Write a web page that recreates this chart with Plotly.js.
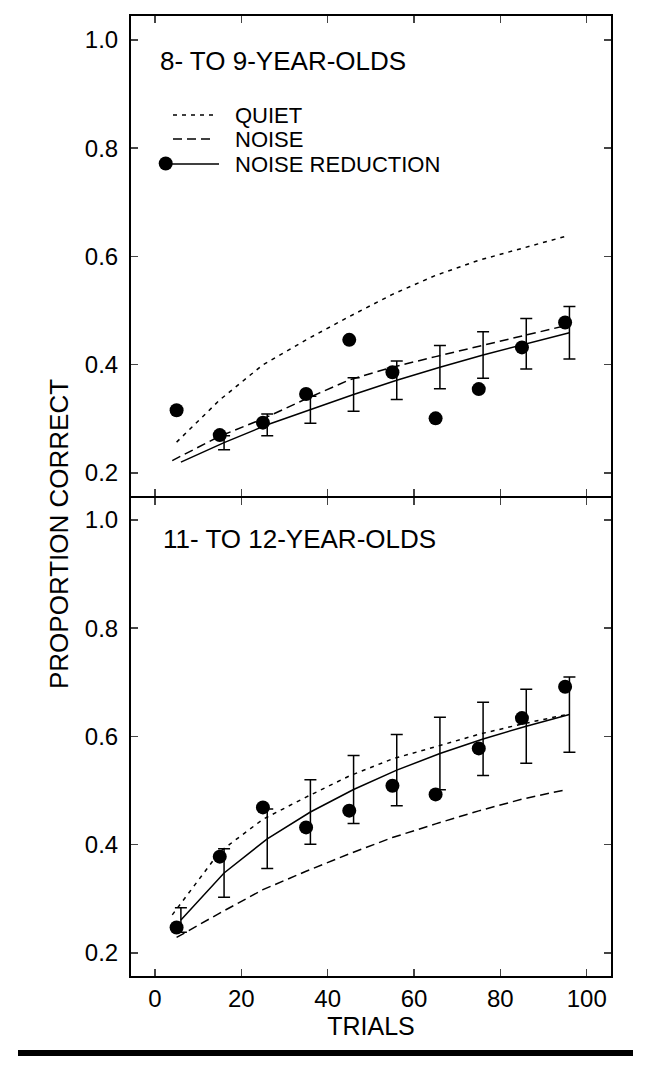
<!DOCTYPE html>
<html><head><meta charset="utf-8">
<script src="https://cdn.plot.ly/plotly-3.0.1.min.js"></script>
<style>html,body{margin:0;padding:0;background:#fff}</style>
</head><body><div id="chart" style="width:651px;height:1066px"></div>
<script>
// ---- data ----
const trials = [5, 15, 25, 35, 45, 55, 65, 75, 85, 95];
const fitTrials = [6, 16, 26, 36, 46, 56, 66, 76, 86, 96];
const curveTrialsEarly = [4, 15, 25, 35, 45, 55, 65, 75, 85, 95];

// 8- to 9-year-olds (top panel)
const quietTop = [0.257, 0.335, 0.400, 0.446, 0.489, 0.530, 0.565, 0.593, 0.615, 0.637];
const noiseTop = [0.223, 0.268, 0.300, 0.337, 0.372, 0.3955, 0.415, 0.434, 0.454, 0.472];
const nrFitTop = [0.220, 0.256, 0.289, 0.317, 0.345, 0.3715, 0.3955, 0.418, 0.4387, 0.459];
const nrErrTop = [null, 0.013, 0.020, 0.025, 0.031, 0.0355, 0.040, 0.043, 0.0467, 0.0486];
const nrDataTop = [0.316, 0.270, 0.293, 0.346, 0.446, 0.386, 0.301, 0.355, 0.432, 0.478];

// 11- to 12-year-olds (bottom panel)
const quietBot = [0.2705, 0.387, 0.447, 0.488, 0.527, 0.5586, 0.581, 0.604, 0.623, 0.640];
const noiseBot = [0.2287, 0.2737, 0.317, 0.351, 0.3832, 0.4133, 0.4386, 0.4626, 0.4842, 0.5014];
const nrFitBot = [0.261, 0.3478, 0.411, 0.4605, 0.502, 0.5378, 0.5685, 0.5955, 0.619, 0.6405];
const nrErrBot = [0.0225, 0.0446, 0.055, 0.0595, 0.0628, 0.0658, 0.0671, 0.0678, 0.0684, 0.0695];
const nrDataBot = [0.247, 0.378, 0.469, 0.432, 0.463, 0.509, 0.493, 0.578, 0.634, 0.692];

const xTicks = [0, 20, 40, 60, 80, 100];
const yTicks = [0.2, 0.4, 0.6, 0.8, 1.0];
const panelLabels = ['8- TO 9-YEAR-OLDS', '11- TO 12-YEAR-OLDS'];
const legendLabels = ['QUIET', 'NOISE', 'NOISE REDUCTION'];

// ---- styling ----
const FONT = 'Liberation Sans, Arial, sans-serif';
const DOT = '4px,5px';
const DASH = '9px,5px';

function keep(xs, errs) { return xs.filter((_, i) => errs[i] !== null); }

function panel(xa, ya, quiet, quietX, noise, noiseX, fit, err, pts) {
  return [
    {x: quietX, y: quiet, xaxis: xa, yaxis: ya, mode: 'lines', line: {color: '#000', width: 1.5, dash: DOT}, name: 'QUIET'},
    {x: noiseX, y: noise, xaxis: xa, yaxis: ya, mode: 'lines', line: {color: '#000', width: 1.5, dash: DASH}, name: 'NOISE'},
    {x: fitTrials, y: fit, xaxis: xa, yaxis: ya, mode: 'lines', line: {color: '#000', width: 1.5}, name: 'NOISE REDUCTION fit'},
    {x: keep(fitTrials, err), y: keep(fit, err), xaxis: xa, yaxis: ya, mode: 'markers',
     marker: {size: 1, color: 'rgba(0,0,0,0)'},
     error_y: {type: 'data', array: keep(err, err), visible: true, color: '#000', thickness: 1.5, width: 6}, name: 'SE'},
    {x: trials, y: pts, xaxis: xa, yaxis: ya, mode: 'markers', marker: {size: 14, color: '#000'}, name: 'NOISE REDUCTION'}
  ];
}

const data = [].concat(
  panel('x2', 'y2', quietTop, trials, noiseTop, curveTrialsEarly, nrFitTop, nrErrTop, nrDataTop),
  panel('x', 'y', quietBot, curveTrialsEarly, noiseBot, trials, nrFitBot, nrErrBot, nrDataBot)
);

const L = 131, T = 16, W = 480, H = 960;
const px = v => (v - L) / W;
const py = v => (T + H - v) / H;

const axisX = {
  range: [-5.56, 105.63], tickvals: xTicks, ticks: 'inside', ticklen: 7, tickwidth: 1.5,
  showline: true, linewidth: 2, linecolor: '#000', mirror: 'ticks', showgrid: false, zeroline: false,
  tickfont: {family: FONT, size: 24, color: '#000'}
};
const axisY = {
  tickvals: yTicks, tickformat: '.1f', ticks: 'inside', ticklen: 7, tickwidth: 1.5,
  showline: true, linewidth: 2, linecolor: '#000', mirror: 'ticks', showgrid: false, zeroline: false,
  tickfont: {family: FONT, size: 24, color: '#000'}, ticklabelstandoff: 6
};

const layout = {
  width: 651, height: 1066,
  margin: {l: L, r: 651 - L - W, t: T, b: 1066 - T - H},
  paper_bgcolor: '#fff', plot_bgcolor: '#fff',
  showlegend: false,
  font: {family: FONT, color: '#000'},
  xaxis: Object.assign({}, axisX, {anchor: 'y', domain: [0, 1],
    title: {text: 'TRIALS', font: {family: FONT, size: 25, color: '#000'}, standoff: 4}}),
  xaxis2: Object.assign({}, axisX, {anchor: 'y2', domain: [0, 1], matches: 'x', showticklabels: false}),
  yaxis: Object.assign({}, axisY, {anchor: 'x', domain: [0, 478 / 960], range: [0.1575, 1.0406]}),
  yaxis2: Object.assign({}, axisY, {anchor: 'x2', domain: [0.5, 1], range: [0.1575, 1.0443]}),
  annotations: [
    {text: 'PROPORTION CORRECT', textangle: -90, xref: 'paper', yref: 'paper', x: px(59), y: py(534),
     xanchor: 'center', yanchor: 'middle', showarrow: false, font: {family: FONT, size: 26}},
    {text: panelLabels[0], xref: 'paper', yref: 'paper', x: px(158), y: py(61), xanchor: 'left', yanchor: 'middle',
     showarrow: false, font: {family: FONT, size: 26}},
    {text: panelLabels[1], xref: 'paper', yref: 'paper', x: px(161), y: py(539), xanchor: 'left', yanchor: 'middle',
     showarrow: false, font: {family: FONT, size: 26}},
    {text: legendLabels[0], xref: 'paper', yref: 'paper', x: px(233), y: py(115), xanchor: 'left', yanchor: 'middle',
     showarrow: false, font: {family: FONT, size: 22}},
    {text: legendLabels[1], xref: 'paper', yref: 'paper', x: px(233), y: py(139), xanchor: 'left', yanchor: 'middle',
     showarrow: false, font: {family: FONT, size: 22}},
    {text: legendLabels[2], xref: 'paper', yref: 'paper', x: px(233), y: py(164), xanchor: 'left', yanchor: 'middle',
     showarrow: false, font: {family: FONT, size: 22}}
  ],
  shapes: [
    {type: 'line', xref: 'paper', yref: 'paper', x0: px(173), x1: px(218), y0: py(115), y1: py(115),
     line: {color: '#000', width: 1.5, dash: DOT}},
    {type: 'line', xref: 'paper', yref: 'paper', x0: px(173), x1: px(212), y0: py(139), y1: py(139),
     line: {color: '#000', width: 1.5, dash: DASH}},
    {type: 'line', xref: 'paper', yref: 'paper', x0: px(166), x1: px(219), y0: py(164), y1: py(164),
     line: {color: '#000', width: 1.5}},
    {type: 'circle', xref: 'paper', yref: 'paper', x0: px(158.7), x1: px(172.7), y0: py(170.5), y1: py(156.5),
     fillcolor: '#000', line: {color: '#000', width: 0}},
    {type: 'rect', xref: 'paper', yref: 'paper', x0: px(18), x1: px(633), y0: py(1056), y1: py(1050),
     fillcolor: '#000', line: {width: 0}}
  ]
};

Plotly.newPlot('chart', data, layout, {staticPlot: true, displayModeBar: false});
</script>
</body></html>
